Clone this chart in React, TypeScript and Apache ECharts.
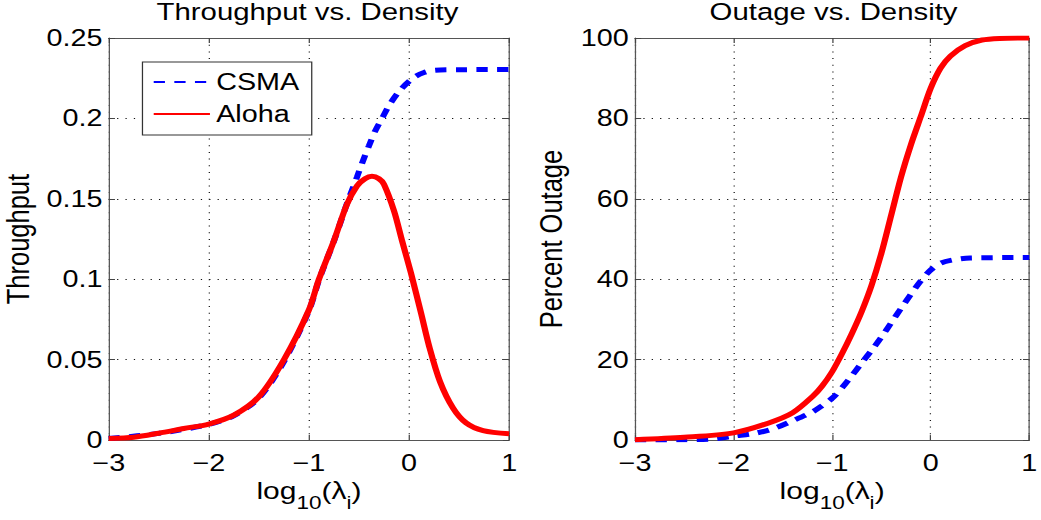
import React, { useEffect, useRef } from "react";
import * as echarts from "echarts";

// ---------- data ----------
const xTickValues = [-3, -2, -1, 0, 1];

// Throughput vs. Density
const tpCsmaX = [-3, -2.5, -2, -1.75, -1.5, -1.25, -1, -0.9, -0.75, -0.62, -0.52, -0.47, -0.4, -0.34, -0.27, -0.2, -0.09, 0.045, 0.15, 0.26, 0.5, 1];
const tpCsmaY = [0.001, 0.0042, 0.0098, 0.0152, 0.0262, 0.0488, 0.0805, 0.0995, 0.1238, 0.147, 0.1635, 0.172, 0.183, 0.192, 0.2, 0.208, 0.2175, 0.2253, 0.2285, 0.23, 0.2303, 0.2304];
const tpAlohaX = [-3, -2.75, -2.5, -2.25, -2, -1.75, -1.5, -1.25, -1, -0.9, -0.75, -0.62, -0.52, -0.44, -0.37, -0.3, -0.25, -0.15, -0.07, 0.02, 0.12, 0.2, 0.31, 0.44, 0.57, 0.74, 1];
const tpAlohaY = [0.001, 0.0018, 0.0043, 0.0072, 0.01, 0.0155, 0.027, 0.05, 0.081, 0.1, 0.124, 0.1466, 0.158, 0.1625, 0.164, 0.1625, 0.159, 0.1425, 0.124, 0.1037, 0.079, 0.0586, 0.0363, 0.0199, 0.0107, 0.0059, 0.0039];

// Outage vs. Density (percent)
const outCsmaX = [-3, -2.5, -2.2, -2, -1.8, -1.6, -1.4, -1.2, -1.1, -1, -0.9, -0.8, -0.7, -0.6, -0.5, -0.4, -0.3, -0.2, -0.1, 0, 0.1, 0.22, 0.4, 1];
const outCsmaY = [0, 0.1, 0.3, 1.0, 1.6, 2.8, 4.8, 7.0, 8.6, 10.4, 13, 16, 19.2, 22.3, 25.6, 29.2, 32.8, 36.3, 39.6, 42.3, 44.0, 44.8, 45.3, 45.4];
const outAlohaX = [-3, -2.5, -2, -1.65, -1.4, -1.2, -1.1, -1, -0.9, -0.8, -0.7, -0.6, -0.5, -0.4, -0.3, -0.2, -0.1, 0, 0.1, 0.2, 0.35, 0.52, 0.7, 1];
const outAlohaY = [0.1, 0.7, 1.8, 4.2, 6.8, 10.8, 13.5, 17, 21.5, 26.5, 32, 38.5, 46.5, 56, 65.5, 73.5, 80.5, 87.5, 92.5, 95.5, 98.1, 99.5, 99.9, 100];

const seriesNames = ["CSMA", "Aloha"];
const titles = ["Throughput vs. Density", "Outage vs. Density"];
const yNames = ["Throughput", "Percent Outage"];

const FONT = "'Liberation Sans', Arial, Helvetica, sans-serif";
const BASE_W = 833;
const H = 520;
const SX = 1041 / BASE_W;

const zip = (xs: number[], ys: number[]) => xs.map((x, i) => [x, ys[i]]);

export default function App() {
  const ref = useRef<HTMLDivElement>(null);

  useEffect(() => {
    if (!ref.current) return;
    const chart = echarts.init(ref.current, undefined, { renderer: "svg" });

    const grids = [
      { left: 86.4, top: 38, width: 321, height: 408 },
      { left: 508.1, top: 38, width: 320, height: 408 },
    ];
    const yRanges = [
      { min: 0, max: 0.25, interval: 0.05 },
      { min: 0, max: 100, interval: 20 },
    ];
    const yNameGaps = [60, 54];

    const axisLine = { show: true, onZero: false, lineStyle: { color: "#555", width: 1 } };
    const tick = { show: true, inside: true, length: 5, lineStyle: { color: "#444", width: 1 } };
    const split = { show: true, lineStyle: { color: "#111", width: 1, type: [1, 5.7] as any } };

    const xAxes: any[] = [];
    const yAxes: any[] = [];
    const xMin = xTickValues[0];
    const xMax = xTickValues[xTickValues.length - 1];
    const xFmt = (v: number) => (v < 0 ? "\u2212" + Math.abs(v) : String(v));

    const xName = "{m|log}{s|10}{m|(\u03bb}{s|i}{m|)}";
    const xNameRich = {
      m: { fontSize: 24, fontFamily: FONT, color: "#000", lineHeight: 24, padding: [0, 0, 12, 0] },
      s: { fontSize: 18, fontFamily: FONT, color: "#000", lineHeight: 18, padding: [12, 0, 0, 0] },
    };

    for (let g = 0; g < 2; g++) {
      xAxes.push({
        type: "value",
        gridIndex: g,
        position: "bottom",
        min: xMin,
        max: xMax,
        interval: 1,
        axisLine,
        axisTick: tick,
        splitLine: split,
        axisLabel: { show: true, fontSize: 23, fontFamily: FONT, color: "#000", margin: 11, formatter: xFmt },
        name: xName,
        nameLocation: "middle",
        nameGap: 34,
        nameTextStyle: { rich: xNameRich },
      });
      xAxes.push({
        type: "value",
        gridIndex: g,
        position: "top",
        min: xMin,
        max: xMax,
        interval: 1,
        axisLine,
        axisTick: tick,
        splitLine: { show: false },
        axisLabel: { show: false },
      });
      yAxes.push({
        type: "value",
        gridIndex: g,
        position: "left",
        ...yRanges[g],
        axisLine,
        axisTick: tick,
        splitLine: split,
        axisLabel: { show: true, fontSize: 23, fontFamily: FONT, color: "#000", margin: 5 },
        name: yNames[g],
        nameLocation: "middle",
        nameGap: yNameGaps[g],
        nameTextStyle: { fontSize: 25.5, fontFamily: FONT, color: "#000" },
      });
      yAxes.push({
        type: "value",
        gridIndex: g,
        position: "right",
        ...yRanges[g],
        axisLine,
        axisTick: tick,
        splitLine: { show: false },
        axisLabel: { show: false },
      });
    }

    const mk = (name: string, data: number[][], g: number) => {
      const isCsma = name === "CSMA";
      return {
        type: "line",
        name,
        xAxisIndex: g * 2,
        yAxisIndex: g * 2,
        data,
        symbol: "none",
        showSymbol: false,
        smooth: 0.3,
        lineStyle: {
          color: isCsma ? "#0000ff" : "#ff0000",
          width: 5,
          type: isCsma ? ([9, 7.5] as any) : "solid",
          cap: "butt",
        },
        itemStyle: { color: isCsma ? "#0000ff" : "#ff0000" },
        z: isCsma ? 2 : 3,
      };
    };

    const option: any = {
      animation: false,
      backgroundColor: "#fff",
      textStyle: { fontFamily: FONT },
      grid: grids,
      xAxis: xAxes,
      yAxis: yAxes,
      legend: {
        data: seriesNames,
        orient: "vertical",
        left: 114,
        top: 62,
        itemWidth: 45,
        itemHeight: 14,
        itemGap: 8,
        padding: [8, 10, 9, 8],
        borderColor: "#333",
        borderWidth: 1,
        backgroundColor: "#fff",
        selectedMode: false,
        itemStyle: { opacity: 0 },
        textStyle: { fontSize: 23, lineHeight: 24, fontFamily: FONT, color: "#000" },
        z: 10,
      },
      graphic: [
        {
          type: "text",
          x: 246,
          y: 0,
          style: { text: titles[0], fontSize: 23.5, fontFamily: FONT, fill: "#000", align: "center", verticalAlign: "top" },
        },
        {
          type: "text",
          x: 667,
          y: 0,
          style: { text: titles[1], fontSize: 23.5, fontFamily: FONT, fill: "#000", align: "center", verticalAlign: "top" },
        },
      ],
      series: [
        mk("CSMA", zip(tpCsmaX, tpCsmaY), 0),
        mk("Aloha", zip(tpAlohaX, tpAlohaY), 0),
        mk("CSMA", zip(outCsmaX, outCsmaY), 1),
        mk("Aloha", zip(outAlohaX, outAlohaY), 1),
      ],
    };

    chart.setOption(option);
    return () => chart.dispose();
  }, []);

  return (
    <div
      style={{
        position: "absolute",
        left: 0,
        top: 0,
        width: 1041,
        height: H,
        overflow: "hidden",
        background: "#fff",
      }}
    >
      <div
        ref={ref}
        style={{
          width: BASE_W,
          height: H,
          transform: `scaleX(${SX})`,
          transformOrigin: "0 0",
        }}
      />
    </div>
  );
}
